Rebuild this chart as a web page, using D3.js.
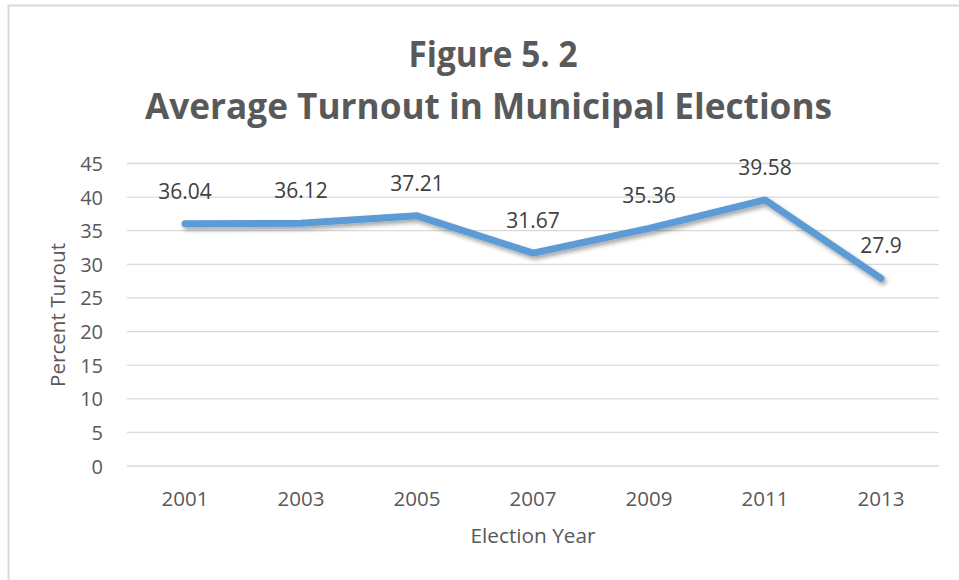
<!DOCTYPE html>
<html>
<head>
<meta charset="utf-8">
<script src="https://cdn.jsdelivr.net/npm/d3@7"></script>
<style>
  html, body { margin: 0; padding: 0; background: #fff; }
  svg { display: block; font-family: "Open Sans", sans-serif; }
</style>
</head>
<body>
<svg id="chart" width="959" height="580"></svg>
<script>
const years = ["2001", "2003", "2005", "2007", "2009", "2011", "2013"];
const turnout = [36.04, 36.12, 37.21, 31.67, 35.36, 39.58, 27.9];
const yTicks = [0, 5, 10, 15, 20, 25, 30, 35, 40, 45];
const titleLines = ["Figure 5. 2", "Average Turnout in Municipal Elections"];
const xTitle = "Election Year";
const yTitle = "Percent Turout";

(function () {
const svg = d3.select("#chart");

// outer border
svg.append("rect")
  .attr("x", 8.5).attr("y", 5.5)
  .attr("width", 960).attr("height", 590)
  .attr("fill", "none").attr("stroke", "#d9d9d9").attr("stroke-width", 2);

const defs = svg.append("defs");
const f = defs.append("filter").attr("id", "shadow")
  .attr("x", "-10%").attr("y", "-20%").attr("width", "130%").attr("height", "160%");
f.append("feDropShadow").attr("dx", 2).attr("dy", 3).attr("stdDeviation", 2)
  .attr("flood-color", "#000").attr("flood-opacity", 0.35);

const pl = 127, pr = 939, pt = 163.5, pb = 466;
const x = d3.scaleBand().domain(years).range([pl, pr]);
const y = d3.scaleLinear().domain([0, 45]).range([pb, pt]);

// gridlines
svg.append("g").selectAll("line").data(yTicks).join("line")
  .attr("x1", pl).attr("x2", pr)
  .attr("y1", d => y(d)).attr("y2", d => y(d))
  .attr("stroke", "#d9d9d9").attr("stroke-width", 1.3);

// y axis labels
const yAxis = d3.axisLeft(y).tickValues(yTicks).tickSize(0).tickPadding(0);
const gy = svg.append("g").attr("transform", `translate(103,0)`).call(yAxis);
gy.select(".domain").remove();
gy.selectAll("text").attr("font-size", 20).attr("fill", "#595959")
  .attr("font-family", "Open Sans, sans-serif").attr("dy", "0.35em");

// x axis labels
const xAxis = d3.axisBottom(x).tickSize(0).tickPadding(0);
const gx = svg.append("g").attr("transform", `translate(0,506)`).call(xAxis);
gx.select(".domain").remove();
gx.selectAll("text").attr("font-size", 20.5).attr("fill", "#595959")
  .attr("font-family", "Open Sans, sans-serif").attr("dy", 0);

// line
const line = d3.line()
  .x((d, i) => x(years[i]) + x.bandwidth() / 2)
  .y(d => y(d));
svg.append("path").datum(turnout)
  .attr("d", line)
  .attr("fill", "none").attr("stroke", "#5B9BD5").attr("stroke-width", 7)
  .attr("stroke-linecap", "round").attr("stroke-linejoin", "round")
  .attr("filter", "url(#shadow)");

// data labels
svg.append("g").selectAll("text").data(turnout).join("text")
  .attr("x", (d, i) => x(years[i]) + x.bandwidth() / 2)
  .attr("y", d => y(d) - 25)
  .attr("text-anchor", "middle")
  .attr("font-size", 21).attr("fill", "#404040")
  .text(d => d);

// titles
svg.append("text").attr("x", 493).attr("y", 67)
  .attr("text-anchor", "middle").attr("font-weight", "bold")
  .attr("font-size", 36).attr("fill", "#595959")
  .attr("textLength", 169).attr("lengthAdjust", "spacingAndGlyphs")
  .text(titleLines[0]);
svg.append("text").attr("x", 488.5).attr("y", 119)
  .attr("text-anchor", "middle").attr("font-weight", "bold")
  .attr("font-size", 36).attr("fill", "#595959")
  .attr("textLength", 687).attr("lengthAdjust", "spacingAndGlyphs")
  .text(titleLines[1]);

// axis titles
svg.append("text").attr("x", 533).attr("y", 542.5)
  .attr("text-anchor", "middle").attr("font-size", 20.5).attr("fill", "#595959")
  .attr("textLength", 125).attr("lengthAdjust", "spacingAndGlyphs")
  .text(xTitle);
svg.append("text")
  .attr("transform", "translate(65,315) rotate(-90)")
  .attr("text-anchor", "middle").attr("font-size", 20.5).attr("fill", "#595959")
  .attr("textLength", 144).attr("lengthAdjust", "spacingAndGlyphs")
  .text(yTitle);
})();
</script>
</body>
</html>
